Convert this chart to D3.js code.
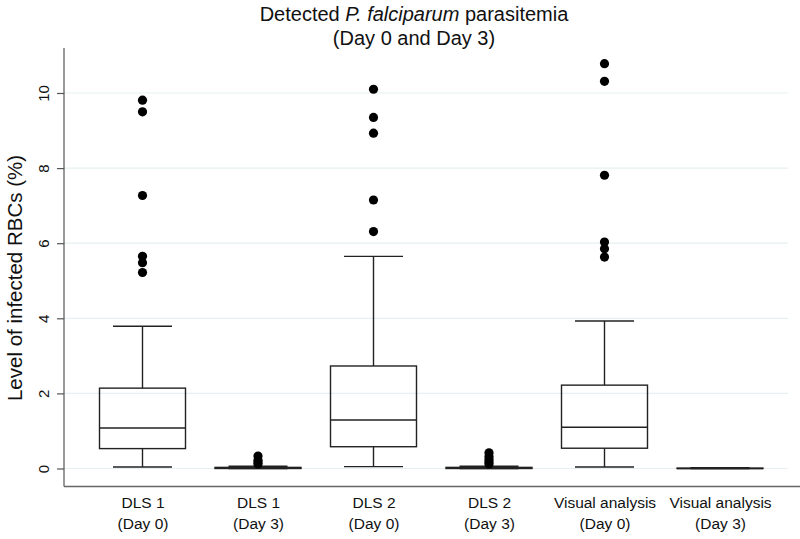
<!DOCTYPE html>
<html><head><meta charset="utf-8">
<script src="https://cdn.jsdelivr.net/npm/d3@7/dist/d3.min.js"></script>
<style>body{margin:0;background:#fff}svg{display:block;font-family:"Liberation Sans",Arial,sans-serif}</style>
</head><body><svg id="c" width="800" height="539"></svg>
<script>
const categories = ["DLS 1|(Day 0)","DLS 1|(Day 3)","DLS 2|(Day 0)","DLS 2|(Day 3)","Visual analysis|(Day 0)","Visual analysis|(Day 3)"];
const whiskerLow  = [0.04, 0.00, 0.05, 0.00, 0.04, 0.00];
const q1          = [0.53, 0.00, 0.58, 0.00, 0.54, 0.00];
const median      = [1.08, 0.01, 1.29, 0.01, 1.10, 0.00];
const q3          = [2.14, 0.03, 2.73, 0.03, 2.22, 0.01];
const whiskerHigh = [3.79, 0.06, 5.65, 0.06, 3.93, 0.02];
const outliers = [
  [9.81, 9.50, 7.27, 5.65, 5.48, 5.22],
  [0.33, 0.22, 0.16, 0.12],
  [10.10, 9.35, 8.93, 7.15, 6.31],
  [0.42, 0.32, 0.24, 0.17, 0.12],
  [10.78, 10.31, 7.81, 6.03, 5.85, 5.63],
  []
];
const yTicks = [0, 2, 4, 6, 8, 10];

(function () {
const svg = d3.select("#c");
const pLeft = 64, pRight = 788, pTop = 48, pBottom = 486.5;
const y = d3.scaleLinear().domain([0, 10]).range([468.5, 93]);
const x = d3.scalePoint().domain(categories).range([142.5, 720]);
const boxW = 86, capW = 59;

// gridlines
svg.append("g").selectAll("line").data(yTicks).join("line")
  .attr("x1", pLeft).attr("x2", pRight)
  .attr("y1", d => y(d)).attr("y2", d => y(d))
  .attr("stroke", "#e6eff1").attr("stroke-width", 1.2);

// y axis
const yAxis = svg.append("g").attr("transform", `translate(${pLeft},0)`)
  .call(d3.axisLeft(y).tickValues(yTicks).tickSize(7).tickPadding(6).tickFormat(d3.format("d")));
yAxis.select(".domain").attr("d", `M0,${pTop}V${pBottom}`).attr("stroke", "#555").attr("stroke-width", 1.2);
yAxis.selectAll(".tick line").attr("stroke", "#555").attr("stroke-width", 1.2);
yAxis.selectAll(".tick text").attr("font-size", 15).attr("fill", "#111")
  .attr("text-anchor", "middle").attr("dy", null)
  .attr("transform", "translate(-21,0) rotate(-90)")
  .attr("x", 0).attr("y", 0).attr("dominant-baseline", "central");

// x axis
const xAxis = svg.append("g").attr("transform", `translate(0,${pBottom})`)
  .call(d3.axisBottom(x).tickSize(0).tickFormat(""));
xAxis.select(".domain").attr("d", `M${pLeft},0H${pRight + 12}`).attr("stroke", "#666").attr("stroke-width", 1.4);
xAxis.selectAll(".tick").each(function(d) {
  const parts = d.split("|");
  const t = d3.select(this).append("text").attr("fill", "#111").attr("font-size", 15.5)
    .attr("text-anchor", "middle");
  parts.forEach((p, i) => t.append("tspan").attr("x", 0).attr("y", 21 + i * 21).text(p));
});

// boxes
const g = svg.append("g").attr("stroke", "#222").attr("stroke-width", 1.4).attr("fill", "none");
categories.forEach((c, i) => {
  const cx = x(c);
  g.append("line").attr("x1", cx).attr("x2", cx).attr("y1", y(q3[i])).attr("y2", y(whiskerHigh[i]));
  g.append("line").attr("x1", cx).attr("x2", cx).attr("y1", y(q1[i])).attr("y2", y(whiskerLow[i]));
  g.append("line").attr("x1", cx - capW/2).attr("x2", cx + capW/2).attr("y1", y(whiskerHigh[i])).attr("y2", y(whiskerHigh[i]));
  g.append("line").attr("x1", cx - capW/2).attr("x2", cx + capW/2).attr("y1", y(whiskerLow[i])).attr("y2", y(whiskerLow[i]));
  g.append("rect").attr("x", cx - boxW/2).attr("width", boxW)
    .attr("y", y(q3[i])).attr("height", Math.max(0, y(q1[i]) - y(q3[i])));
  g.append("line").attr("x1", cx - boxW/2).attr("x2", cx + boxW/2).attr("y1", y(median[i])).attr("y2", y(median[i]));
  svg.append("g").selectAll("circle").data(outliers[i]).join("circle")
    .attr("cx", cx).attr("cy", d => y(d)).attr("r", 4.6).attr("fill", "#000");
});

// title
const title = svg.append("text").attr("x", 414).attr("y", 21).attr("text-anchor", "middle")
  .attr("font-size", 20).attr("fill", "#111");
title.append("tspan").text("Detected ");
title.append("tspan").attr("font-style", "italic").text("P. falciparum");
title.append("tspan").text(" parasitemia");
svg.append("text").attr("x", 414).attr("y", 45).attr("text-anchor", "middle")
  .attr("font-size", 20).attr("fill", "#111").text("(Day 0 and Day 3)");

// y title
svg.append("text").attr("transform", `translate(22,278) rotate(-90)`)
  .attr("text-anchor", "middle").attr("font-size", 20.5).attr("fill", "#111")
  .text("Level of infected RBCs (%)");
})();
</script></body></html>
